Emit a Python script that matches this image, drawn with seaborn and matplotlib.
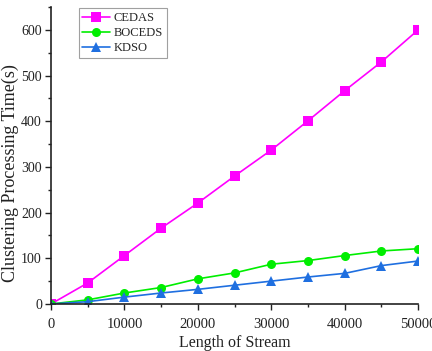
import matplotlib
matplotlib.use("Agg")
import matplotlib.pyplot as plt
import seaborn as sns
import pandas as pd
from matplotlib.ticker import MultipleLocator

length = [0, 5000, 10000, 15000, 20000, 25000, 30000, 35000, 40000, 45000, 50000]
cedas = [0, 46, 106, 166, 221, 280, 337, 401, 467, 530, 600]
boceds = [0, 9, 24, 36, 55, 68, 87, 95, 106, 116, 121]
kdso = [0, 5, 15, 24, 32, 41, 50, 59, 67, 84, 94]

series = ["CEDAS", "BOCEDS", "KDSO"]
colors = ["#FF00FF", "#00EE00", "#1F6FE0"]
markers = ["s", "o", "^"]

df = pd.concat([
    pd.DataFrame({"Length": length, "Time": vals, "Method": name})
    for name, vals in zip(series, [cedas, boceds, kdso])
])

sns.set_style("ticks")
plt.rcParams['font.family'] = ['Liberation Serif', 'DejaVu Serif']

fig = plt.figure(figsize=(4.32, 3.51), dpi=100)
ax = fig.add_axes([0.118, 0.134, 0.850, 0.846])

sns.lineplot(data=df, x="Length", y="Time", hue="Method", style="Method",
             palette=dict(zip(series, colors)), markers=dict(zip(series, markers)),
             dashes=False, markersize=6.5, linewidth=1.2, markeredgewidth=0,
             ax=ax)

ax.set_xlim(0, 50000)
ax.set_ylim(0, 650)
ax.xaxis.set_major_locator(MultipleLocator(10000))
ax.xaxis.set_minor_locator(MultipleLocator(5000))
ax.yaxis.set_major_locator(MultipleLocator(100))
ax.yaxis.set_minor_locator(MultipleLocator(50))
ax.tick_params(which="major", direction="out", length=4, width=1, labelsize=10.5,
               colors="#222222")
ax.tick_params(axis="x", which="major", pad=6)
ax.tick_params(axis="y", which="major", pad=2.5, labelsize=10)
ax.tick_params(which="minor", direction="out", length=2.5, width=1, colors="#222222")
for s in ["top", "right"]:
    ax.spines[s].set_visible(False)
for s in ["left", "bottom"]:
    ax.spines[s].set_linewidth(1.2)
    ax.spines[s].set_color("#222222")

ax.set_xlabel("Length of Stream", fontsize=11.5, color="#222222", labelpad=0)
ax.set_ylabel("Clustering Processing Time(s)", fontsize=13, color="#222222", labelpad=0)
ax.xaxis.set_label_coords(0.5, -0.105)
ax.yaxis.set_label_coords(-0.088, 0.44)

leg = ax.legend(loc="upper left", bbox_to_anchor=(0.072, 1.0), fontsize=9,
                frameon=True, fancybox=False, edgecolor="#888888",
                handlelength=2.2, handletextpad=0.3, borderpad=0.3,
                labelspacing=0.25, borderaxespad=0.1)
leg.get_frame().set_linewidth(0.8)

fig.savefig("out.png", dpi=100)
